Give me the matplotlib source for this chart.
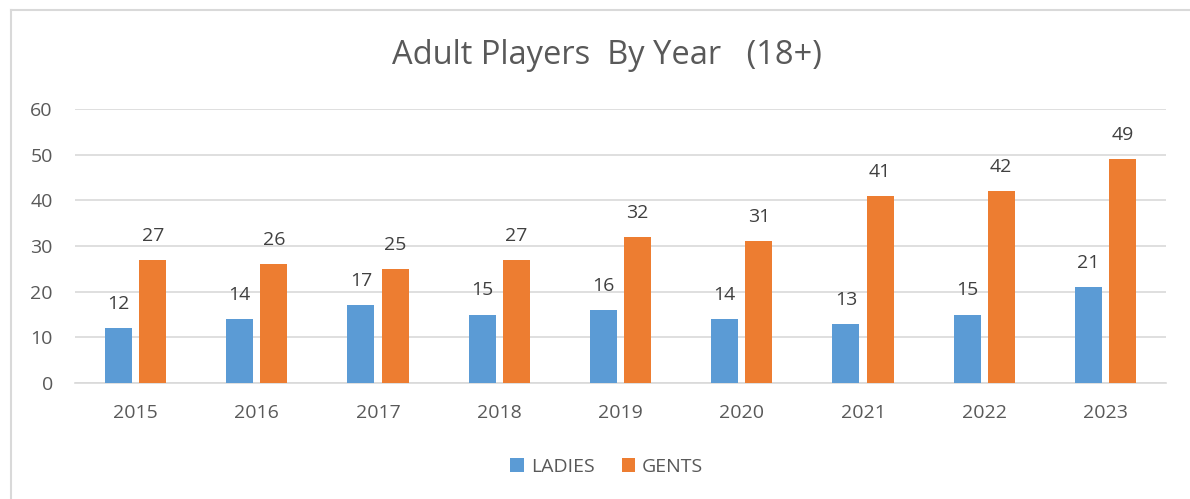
import numpy as np
import matplotlib.pyplot as plt
from matplotlib.lines import Line2D

years = ["2015", "2016", "2017", "2018", "2019", "2020", "2021", "2022", "2023"]
ladies = [12, 14, 17, 15, 16, 14, 13, 15, 21]
gents = [27, 26, 25, 27, 32, 31, 41, 42, 49]

plt.rcParams["font.family"] = ["Open Sans", "DejaVu Sans"]
text_col = "#595959"

fig = plt.figure(figsize=(11.9, 4.99), dpi=100)
ax = fig.add_axes([75 / 1190, 116 / 499, 1091 / 1190, 274 / 499])

x = np.arange(len(years))
w = 0.223
off = 0.141
b1 = ax.bar(x - off, ladies, w, color="#5B9BD5", label="LADIES", zorder=3)
b2 = ax.bar(x + off, gents, w, color="#ED7D31", label="GENTS", zorder=3)

# value labels above the bars
for bars, vals in [(b1, ladies), (b2, gents)]:
    for bar, v in zip(bars, vals):
        ax.text(bar.get_x() + bar.get_width() / 2, v + 3.3, str(v),
                ha="center", va="bottom", fontsize=14, color="#404040")

ax.set_xlim(-0.5, len(years) - 0.5)
ax.set_ylim(0, 60)
ax.set_yticks(range(0, 61, 10))
ax.set_xticks(x)
ax.set_xticklabels(years)
ax.tick_params(axis="both", length=0, labelsize=14, labelcolor=text_col)
ax.tick_params(axis="x", pad=15)
ax.tick_params(axis="y", pad=16)
ax.grid(axis="y", color="#D9D9D9", linewidth=1.2, zorder=0)
for s in ["top", "right", "left"]:
    ax.spines[s].set_visible(False)
ax.spines["bottom"].set_color("#D9D9D9")
ax.spines["bottom"].set_linewidth(1.2)

fig.text(607 / 1190, 1 - 64 / 499, "Adult Players  By Year   (18+)", ha="center",
         va="baseline", fontsize=23.5, color=text_col)

fig.legend(loc="center", bbox_to_anchor=(0.51, 0.065), ncol=2, frameon=False,
           fontsize=14, labelcolor=text_col, handlelength=0.7, handleheight=0.7,
           columnspacing=1.4, handletextpad=0.35)

# chart frame (only top and left edges are visible in the crop)
fig.add_artist(Line2D([11 / 1190, 11 / 1190], [0, 1 - 10 / 499],
                      transform=fig.transFigure, color="#D9D9D9", linewidth=1.5))
fig.add_artist(Line2D([11 / 1190, 1], [1 - 10 / 499, 1 - 10 / 499],
                      transform=fig.transFigure, color="#D9D9D9", linewidth=1.5))

fig.savefig("out.png", dpi=100)
